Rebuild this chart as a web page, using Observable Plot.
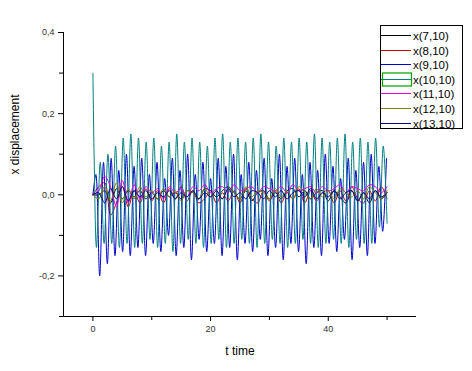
<!DOCTYPE html>
<html><head><meta charset="utf-8">
<script src="https://cdn.jsdelivr.net/npm/d3@7"></script>
<script src="https://cdn.jsdelivr.net/npm/@observablehq/plot@0.6"></script>
<style>body{margin:0;background:#fff}</style>
</head><body><div id="chart"></div>
<script>
const seriesNames = ["x(7,10)","x(8,10)","x(9,10)","x(10,10)","x(11,10)","x(12,10)","x(13,10)"];
const seriesColors = ["#000000","#cc0000","#0000cc","#008080","#e000e0","#808000","#000080"];
const yMajor = [-0.2, 0, 0.2, 0.4];
const yMinor = [-0.3, -0.1, 0.1, 0.3];
const xMajor = [0, 20, 40];
const xMinor = [10, 30, 50];

// small series sampled every 1.0 time unit, t = 0..50
const smallStep = 1;
const x7 = [0,0,0.01,-0.02,0.015,-0.01,0.01,-0.005,0.01,-0.01,0.005,
 -0.01,0.01,-0.005,0.005,-0.01,0.01,0.005,-0.01,0.015,0.01,
 -0.005,0.01,0.02,0.005,-0.01,0.01,-0.015,0.005,0.01,-0.01,
 0.005,-0.01,0.01,0.015,-0.005,0.01,-0.01,0.005,0.01,-0.015,
 0.01,-0.005,-0.02,0.01,-0.015,0.005,-0.02,0.01,-0.01,0.005];
const x8 = [0,0.02,0.03,-0.05,-0.02,0.02,-0.03,0.01,-0.02,0.015,-0.015,
 0.01,-0.02,0.015,-0.01,0.02,-0.015,0.01,-0.02,-0.01,0.01,
 -0.02,0.005,-0.015,0.01,-0.02,0.015,-0.01,-0.02,0.01,-0.015,
 0.01,-0.02,0.005,-0.01,0.015,-0.02,0.01,-0.015,0.005,0.01,
 -0.02,0.01,-0.015,0.02,-0.01,-0.02,0.01,-0.015,0.02,-0.01];
const x11 = [0,0.01,0.045,0.02,-0.03,0.035,-0.02,0.025,-0.01,0.02,0.005,
 0.015,-0.01,0.02,0.005,0.015,-0.005,0.02,0.01,0.025,0.005,
 0.015,0.02,0.005,0.025,0.01,0.015,0.02,0.005,0.02,0.015,
 0.01,0.02,0.005,0.025,0.01,0.015,0.02,0.005,0.02,0.01,
 0.015,0.025,0.005,0.02,0.015,0.01,0.025,0.02,0.005,0.02];
const x12 = [0,-0.01,0.02,-0.015,0.03,-0.02,0.015,-0.01,0.02,-0.005,0.01,
 -0.01,0.015,-0.005,0.01,-0.015,0.01,0.005,-0.01,0.015,-0.005,
 0.01,-0.01,0.015,0.005,-0.01,0.02,-0.005,0.01,0.005,-0.01,
 0.015,-0.005,0.01,-0.01,0.02,0.005,-0.01,0.015,-0.005,0.01,
 -0.01,0.015,0.005,-0.005,0.01,-0.01,0.02,0.005,-0.01,0.01];
const x13 = [0,0.005,-0.02,0.015,-0.01,0.02,-0.015,0.01,-0.005,0.01,-0.01,
 0.005,-0.005,0.01,-0.01,0.005,-0.005,0.01,-0.01,0.005,-0.005,
 0.01,-0.01,0.015,-0.005,0.005,-0.01,0.01,0.005,-0.01,0.01,
 -0.005,0.01,-0.01,0.005,0.01,-0.005,0.015,-0.01,0.005,-0.005,
 0.01,-0.01,0.005,0.01,-0.015,0.005,-0.01,0.01,-0.005,0.005];

// large oscillations: extrema every 0.65 time units
const osStep = 0.65;
const tealStartT = [0, 0.2];
const tealStartV = [0.30, 0.10];
const tealGridT0 = 0.6;
const x10 = [-0.13,0.08,-0.12,0.10,-0.12,0.12,-0.13,0.14,-0.12,0.15,
 -0.13,0.14,-0.12,0.13,-0.11,0.14,-0.13,0.12,-0.12,0.13,
 -0.14,0.15,-0.12,0.13,-0.11,0.14,-0.12,0.13,-0.13,0.12,
 -0.12,0.14,-0.11,0.15,-0.13,0.13,-0.12,0.14,-0.11,0.13,
 -0.12,0.14,-0.13,0.15,-0.12,0.13,-0.11,0.12,-0.12,0.14,
 -0.13,0.13,-0.12,0.14,-0.11,0.13,-0.12,0.15,-0.13,0.14,
 -0.12,0.13,-0.11,0.14,-0.12,0.15,-0.13,0.13,-0.11,0.14,
 -0.12,0.13,-0.12,0.14,-0.08,0.12,-0.07];
const blueStartT = [0];
const blueStartV = [0];
const blueGridT0 = 0.5;
const x9 = [0.05,-0.20,0.08,-0.17,0.09,-0.15,0.06,-0.14,0.10,-0.15,
 0.07,-0.13,0.09,-0.15,0.05,-0.12,0.08,-0.14,0.04,-0.10,
 0.09,-0.15,0.06,-0.13,0.10,-0.16,0.05,-0.11,0.08,-0.14,
 0.04,-0.12,0.09,-0.15,0.07,-0.13,0.10,-0.16,0.05,-0.12,
 0.08,-0.14,0.06,-0.11,0.09,-0.15,0.04,-0.13,0.10,-0.16,
 0.07,-0.12,0.09,-0.14,0.05,-0.17,0.08,-0.13,0.06,-0.15,
 0.10,-0.12,0.07,-0.14,0.04,-0.11,0.09,-0.16,0.06,-0.13,
 0.08,-0.15,0.10,-0.12,0.07,-0.09,0.09];

const rows = [];
function addSmall(name, vals){ vals.forEach((v,i)=>rows.push({s:name,t:i*smallStep,v})); }
function addOsc(name, st, sv, t0, vals){
  st.forEach((t,i)=>rows.push({s:name,t,v:sv[i]}));
  vals.forEach((v,i)=>rows.push({s:name,t:t0+i*osStep,v}));
}
addSmall(seriesNames[0], x7);
addSmall(seriesNames[1], x8);
addOsc(seriesNames[2], blueStartT, blueStartV, blueGridT0, x9);
addOsc(seriesNames[3], tealStartT, tealStartV, tealGridT0, x10);
addSmall(seriesNames[4], x11);
addSmall(seriesNames[5], x12);
addSmall(seriesNames[6], x13);

const fmt = d => d3.format(".1f")(d).replace(".", ",").replace("−","-");

const svg = Plot.plot({
  width: 472, height: 371,
  marginLeft: 63, marginRight: 56, marginTop: 32, marginBottom: 55,
  style: {fontFamily: "'Liberation Sans', Arial, sans-serif", fontSize: "9px", background: "#fff", color: "#000"},
  x: {domain: [-5, 55], label: null},
  y: {domain: [-0.3, 0.4], label: null},
  color: {domain: seriesNames, range: seriesColors},
  marks: [
    ...seriesNames.map(n => Plot.line(rows.filter(r => r.s === n), {x: "t", y: "v", stroke: "s", strokeWidth: 1, curve: "catmull-rom"})),
    Plot.ruleX([-5], {stroke: "#000"}),
    Plot.ruleY([-0.3], {stroke: "#000"}),
    Plot.axisY(yMajor, {tickSize: 5, tickPadding: 4, tickFormat: fmt, fill: "#333", label: null}),
    Plot.axisY(yMinor, {tickSize: 4, tickFormat: () => "", label: null}),
    Plot.axisX(xMajor, {tickSize: 5, tickPadding: 4, tickFormat: d => String(d), fill: "#333", label: null}),
    Plot.axisX(xMinor, {tickSize: 4, tickFormat: () => "", label: null}),
    Plot.text(["x displacement"], {frameAnchor: "left", rotate: -90, dx: -48, fontSize: 12, fill: "#000"}),
    Plot.text(["t time"], {frameAnchor: "bottom", dy: 38, fontSize: 12, fill: "#000"})
  ]
});

const g = d3.select(svg).append("g").attr("text-anchor", "start");
g.append("rect").attr("x", 380.5).attr("y", 25.5).attr("width", 82).attr("height", 103)
  .attr("fill", "#fff").attr("stroke", "#000");
seriesNames.forEach((n, i) => {
  const y = Math.round(35 + i * 14.6) + 0.5;
  g.append("line").attr("x1", 381).attr("x2", 411).attr("y1", y).attr("y2", y)
    .attr("stroke", seriesColors[i]).attr("stroke-width", 1);
  g.append("text").attr("x", 413).attr("y", y).attr("dy", "0.35em")
    .attr("text-anchor", "start")
    .attr("font-size", 11.5).attr("letter-spacing", "0px").attr("fill", "#000").text(n);
  if (i === 3) {
    g.append("rect").attr("x", 382.5).attr("y", y - 6.5).attr("width", 29).attr("height", 13)
      .attr("fill", "none").attr("stroke", "#00a000").attr("stroke-width", 1.2);
  }
});

document.getElementById("chart").appendChild(svg);
</script>
</body></html>
